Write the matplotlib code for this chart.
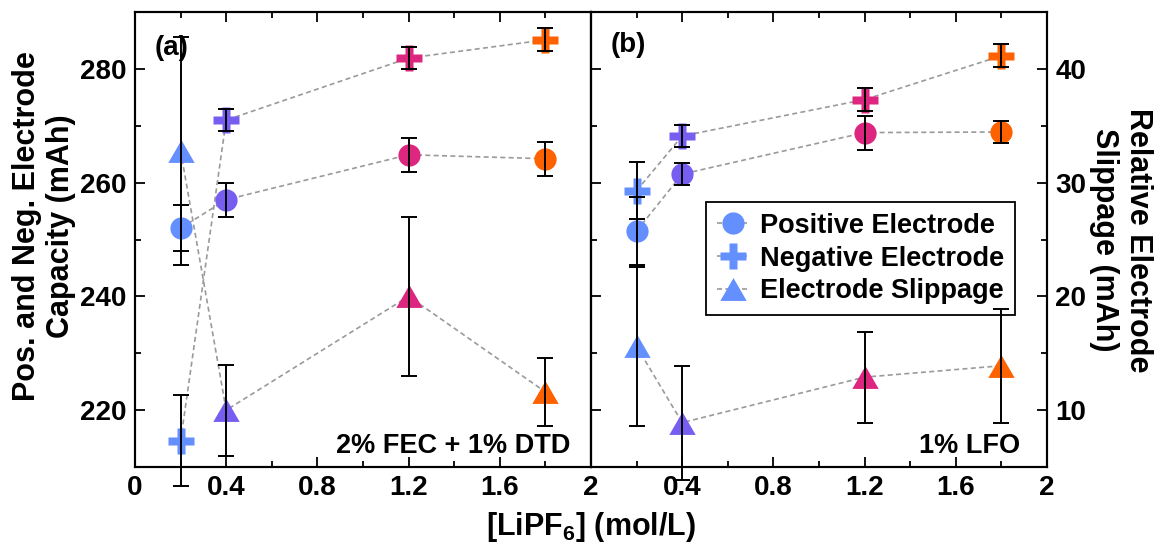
import matplotlib
matplotlib.use("Agg")
import matplotlib.pyplot as plt
from matplotlib.lines import Line2D
from matplotlib.ticker import MultipleLocator

plt.rcParams['font.family'] = ['Liberation Sans', 'DejaVu Sans']
plt.rcParams['font.weight'] = 'bold'
plt.rcParams['mathtext.fontset'] = 'custom'
plt.rcParams['mathtext.rm'] = 'Liberation Sans:bold'
plt.rcParams['mathtext.bf'] = 'Liberation Sans:bold'
plt.rcParams['mathtext.default'] = 'bf'

# LiPF6 concentration (mol/L) and colour for each concentration
conc = [0.2, 0.4, 1.2, 1.8]
colors = ['#648FFF', '#785EF0', '#DC267F', '#FE6100']

# panel (a): 2% FEC + 1% DTD
pos_a = [252.0, 257.0, 264.9, 264.2]
pos_a_err = [4, 3, 3, 3]
neg_a = [214.6, 271.0, 281.9, 285.1]
neg_a_err = [8, 2, 2, 2]
slip_a = [32.8, 10.0, 20.0, 11.6]
slip_a_err = [10, 4, 7, 3]

# panel (b): 1% LFO
pos_b = [251.5, 261.5, 268.8, 268.9]
pos_b_err = [6, 2, 3, 2]
neg_b = [258.6, 268.2, 274.6, 282.3]
neg_b_err = [5, 2, 2, 2]
slip_b = [15.6, 8.9, 12.9, 13.9]
slip_b_err = [7, 5, 4, 5]

xticks = [0, 0.4, 0.8, 1.2, 1.6, 2]
xlabels_a = ['0', '0.4', '0.8', '1.2', '1.6', '2']
xlabels_b = ['', '0.4', '0.8', '1.2', '1.6', '2']

tri = [(0, 0.433), (-0.5, -0.433), (0.5, -0.433), (0, 0.433)]
line_col = '#9a9a9a'
W, H = 1157, 542


def draw_series(ax, y, err, marker, ms):
    ax.plot(conc, y, ls=(0, (3, 2)), color=line_col, lw=1.2, zorder=2)
    for xi, yi, c in zip(conc, y, colors):
        ax.plot(xi, yi, marker=marker, ms=ms, color=c, mec='none',
                ls='none', zorder=3, clip_on=False)
    eb = ax.errorbar(conc, y, yerr=err, fmt='none', ecolor='black',
                     elinewidth=1.4, capsize=6, capthick=1.4, zorder=4)
    for art in list(eb[1]) + list(eb[2]):
        art.set_clip_on(False)


def style_axes(ax, labels):
    ax.set_xlim(0, 2)
    ax.set_ylim(210, 290)
    ax.set_xticks(xticks)
    ax.set_xticklabels(labels)
    ax.xaxis.set_minor_locator(MultipleLocator(0.2))
    ax.yaxis.set_major_locator(MultipleLocator(20))
    ax.yaxis.set_minor_locator(MultipleLocator(10))
    ax.tick_params(which='both', direction='in', top=True, width=1.3,
                   labelsize=20, pad=6)
    ax.tick_params(which='major', length=7)
    ax.tick_params(which='minor', length=4)
    for s in ax.spines.values():
        s.set_linewidth(1.5)


fig = plt.figure(figsize=(W / 100, H / 100), dpi=100)
left_a, left_b, bottom = 135 / W, 591 / W, 1 - 467 / H
width, height = 456 / W, 455 / H

axa = fig.add_axes([left_a, bottom, width, height])
axb = fig.add_axes([left_b, bottom, width, height])
style_axes(axa, xlabels_a)
style_axes(axb, xlabels_b)
axa.tick_params(which='both', right=True)
axb.tick_params(which='both', labelleft=False, right=False)

axa2 = axa.twinx()
axb2 = axb.twinx()
for ax2 in (axa2, axb2):
    ax2.set_ylim(5, 45)
    ax2.yaxis.set_major_locator(MultipleLocator(10))
    ax2.yaxis.set_minor_locator(MultipleLocator(5))
    for s in ax2.spines.values():
        s.set_linewidth(1.5)
axa2.tick_params(which='both', right=False, labelright=False)
axb2.tick_params(which='both', direction='in', width=1.3, labelsize=20, pad=6)
axb2.tick_params(which='major', length=7)
axb2.tick_params(which='minor', length=4)

draw_series(axa, pos_a, pos_a_err, 'o', 16)
draw_series(axa, neg_a, neg_a_err, 'P', 19)
draw_series(axa2, slip_a, slip_a_err, tri, 19)
draw_series(axb, pos_b, pos_b_err, 'o', 16)
draw_series(axb, neg_b, neg_b_err, 'P', 19)
draw_series(axb2, slip_b, slip_b_err, tri, 19)

axa.text(0.044, 0.95, '(a)', transform=axa.transAxes, fontsize=20, va='top')
axb.text(0.042, 0.955, '(b)', transform=axb.transAxes, fontsize=20, va='top')
axa.text(0.954, 0.031, '2% FEC + 1% DTD', transform=axa.transAxes,
         fontsize=19.5, ha='right', va='baseline')
axb.text(0.941, 0.031, '1% LFO', transform=axb.transAxes,
         fontsize=19.5, ha='right', va='baseline')

fig.text(591 / W, 1 - 527 / H, '[LiPF$_6$] (mol/L)', fontsize=22,
         ha='center', va='center')
fig.text(44 / W, 1 - 226 / H, 'Pos. and Neg. Electrode\nCapacity (mAh)',
         fontsize=22, rotation=90, ha='center', va='center',
         multialignment='center')
fig.text(1121 / W, 1 - 240 / H, 'Relative Electrode\nSlippage (mAh)',
         fontsize=22, rotation=270, ha='center', va='center',
         multialignment='center')

handles = [
    Line2D([], [], color=line_col, ls=(0, (3, 2)), lw=1.2, marker='o',
           ms=16, mfc=colors[0], mec='none'),
    Line2D([], [], color=line_col, ls=(0, (3, 2)), lw=1.2, marker='P',
           ms=19, mfc=colors[0], mec='none'),
    Line2D([], [], color=line_col, ls=(0, (3, 2)), lw=1.2, marker=tri,
           ms=19, mfc=colors[0], mec='none'),
]
# legend sits on the lower axes so the slippage error bar is drawn over it
leg = axb.legend(handles, ['Positive Electrode', 'Negative Electrode',
                           'Electrode Slippage'],
                 loc='upper left', bbox_to_anchor=(706 / W, 1 - 202 / H),
                 bbox_transform=fig.transFigure, borderaxespad=0,
                 fontsize=19.5, handlelength=1.2, handletextpad=0.4,
                 labelspacing=0.25, borderpad=0.4, fancybox=False,
                 framealpha=1, edgecolor='black')
leg.get_frame().set_linewidth(1.3)

fig.savefig('out.png', dpi=100)
